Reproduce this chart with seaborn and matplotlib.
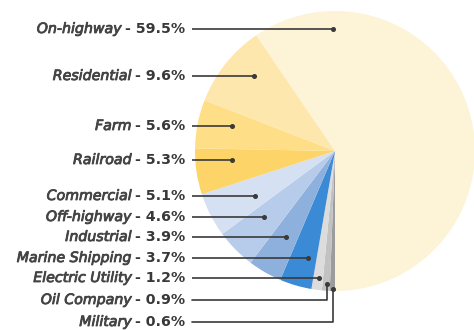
import matplotlib
matplotlib.use("Agg")
import matplotlib.pyplot as plt
import matplotlib.patheffects as pe
import seaborn as sns

# Share of distillate fuel use by sector (percent)
sectors = ["On-highway", "Residential", "Farm", "Railroad", "Commercial",
           "Off-highway", "Industrial", "Marine Shipping", "Electric Utility",
           "Oil Company", "Military"]
shares = [59.5, 9.6, 5.6, 5.3, 5.1, 4.6, 3.9, 3.7, 1.2, 0.9, 0.6]
sector_colors = ["#FDF3D7", "#FDE7AC", "#FEDE86", "#FDD468", "#D5E1F2",
                 "#B6CCEA", "#8EB0DD", "#3B8AD5", "#DCDCDC", "#C2C2C2",
                 "#9C9C9C"]

# Layout (pixel space, y measured from the top edge)
W, H = 474, 330
pie_center = (335, 151)
pie_radius = 140
label_right = 185
leader_start = 192
label_rows = [29, 76, 126, 160, 196, 217, 237, 258, 278, 300, 322]
leader_end_x = [333, 254, 232, 232, 255, 264, 286, 308, 319, 327, 333]
leader_end_y = [None, None, None, None, None, None, None, None, None, 284, 289]

sns.set_theme(style="white")
plt.rcParams["font.family"] = ["DejaVu Sans"]

fig = plt.figure(figsize=(W / 100, H / 100), dpi=100)
ax = fig.add_axes([0, 0, 1, 1])


def fy(y):
    return H - y


# Pie drawn from the bottom, clockwise, smallest sectors first
ax.pie(shares[::-1], colors=sector_colors[::-1], startangle=-90,
       counterclock=False, center=(pie_center[0], fy(pie_center[1])),
       radius=pie_radius, wedgeprops=dict(linewidth=0), frame=True)
ax.set_xlim(0, W)
ax.set_ylim(0, H)
ax.set_axis_off()

line_color = "#3a3a3a"
name_color = "#444444"
for name, share, yrow, xe, ye in zip(sectors, shares, label_rows,
                                     leader_end_x, leader_end_y):
    y = fy(yrow)
    if ye is None:
        ax.plot([leader_start, xe], [y, y], color=line_color, lw=1.2,
                solid_capstyle="butt", zorder=3)
        ax.plot([xe], [y], "o", color=line_color, ms=2.6, zorder=4)
    else:
        ax.plot([leader_start, xe, xe], [y, y, fy(ye)], color=line_color,
                lw=1.2, zorder=3)
        ax.plot([xe], [fy(ye)], "o", color=line_color, ms=2.6, zorder=4)

    val = ax.text(label_right, y, f"- {share:.1f}%", ha="right", va="center",
                  fontsize=10.2, fontweight="bold", color="#383838")
    ax.annotate(name, xy=(0, 0.5), xycoords=val, xytext=(-2.5, 0),
                textcoords="offset points", ha="right", va="center",
                fontsize=10.2, fontstyle="italic", color=name_color,
                path_effects=[pe.withStroke(linewidth=0.6,
                                            foreground=name_color)])

fig.savefig("out.png", dpi=100)
